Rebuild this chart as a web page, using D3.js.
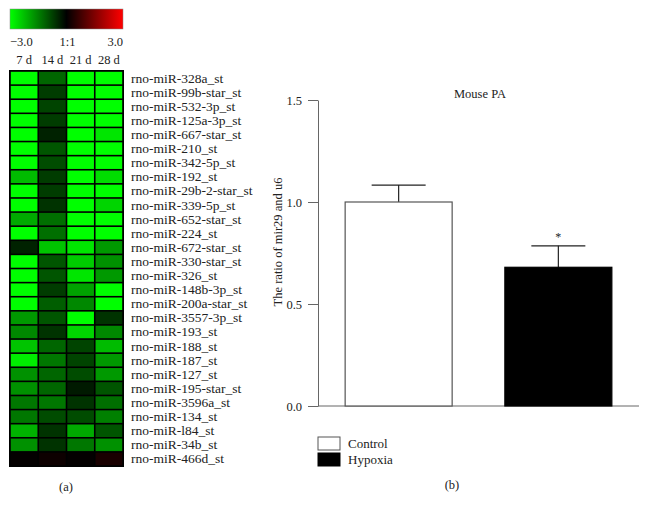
<!DOCTYPE html>
<html><head><meta charset="utf-8">
<script src="https://cdn.jsdelivr.net/npm/d3@7"></script>
<style>body{margin:0;background:#fff}svg{display:block}text{font-family:"Liberation Serif","DejaVu Serif",serif;fill:#222}</style>
</head><body><svg id="c" width="648" height="511"></svg>
<script>
const days = ["7 d","14 d","21 d","28 d"];
const mirnas = ["rno-miR-328a_st","rno-miR-99b-star_st","rno-miR-532-3p_st","rno-miR-125a-3p_st","rno-miR-667-star_st","rno-miR-210_st","rno-miR-342-5p_st","rno-miR-192_st","rno-miR-29b-2-star_st","rno-miR-339-5p_st","rno-miR-652-star_st","rno-miR-224_st","rno-miR-672-star_st","rno-miR-330-star_st","rno-miR-326_st","rno-miR-148b-3p_st","rno-miR-200a-star_st","rno-miR-3557-3p_st","rno-miR-193_st","rno-miR-188_st","rno-miR-187_st","rno-miR-127_st","rno-miR-195-star_st","rno-miR-3596a_st","rno-miR-134_st","rno-miR-l84_st","rno-miR-34b_st","rno-miR-466d_st"];
// log ratio per day (7d,14d,21d,28d)
const d7  = [-3.0,-3.0,-3.0,-3.0,-3.0,-3.0,-3.0,-2.2,-3.0,-3.0,-2.0,-3.0,-0.4,-3.0,-3.0,-3.0,-3.0,-1.8,-1.6,-2.3,-2.8,-1.7,-1.7,-1.4,-1.4,-2.1,-1.7,0.05];
const d14 = [-1.2,-0.7,-0.8,-0.7,-0.4,-1.0,-0.9,-0.7,-0.7,-0.6,-1.3,-1.3,-2.3,-1.0,-1.0,-0.7,-1.1,-1.0,-0.6,-1.2,-1.4,-1.2,-1.2,-1.4,-0.9,-0.6,-0.6,0.15];
const d21 = [-3.0,-3.0,-3.0,-3.0,-3.0,-3.0,-3.0,-3.0,-3.0,-3.0,-3.0,-3.0,-2.7,-2.4,-2.7,-1.9,-1.6,-3.0,-2.5,-0.8,-0.8,-0.9,-0.3,-0.6,-0.9,-2.0,-1.4,0.05];
const d28 = [-3.0,-3.0,-3.0,-3.0,-2.7,-3.0,-3.0,-2.6,-3.0,-2.5,-3.0,-3.0,-1.8,-1.7,-1.8,-3.0,-3.0,-0.6,-1.6,-2.2,-1.8,-1.8,-1.0,-1.3,-1.5,-1.0,-1.7,0.3];
const scaleTicks = ["\u22123.0","1:1","3.0"];

const groups = ["Control","Hypoxia"];
const ratio = [1.0, 0.68];
const errUp = [0.083, 0.105];
const yTicks = [0.0,0.5,1.0,1.5];

const svg = d3.select("#c");
const series = [d7,d14,d21,d28];

// ---- heatmap ----
const hx = d3.scaleBand().domain(days).range([10,123]).padding(0);
const hy = d3.scaleBand().domain(mirnas).range([71,466]).padding(0);
const col = d3.scaleLinear().domain([-3,0,3]).range(["#00ff00","#000000","#ff0000"]).clamp(true);

// color bar
const defs = svg.append("defs");
const grad = defs.append("linearGradient").attr("id","g");
[-3,-1.5,0,1.5,3].forEach(v=>grad.append("stop").attr("offset",((v+3)/6*100)+"%").attr("stop-color",col(v)));
const cb = d3.scaleLinear().domain([-3,3]).range([10,123]);
svg.append("rect").attr("x",cb(-3)).attr("y",9).attr("width",cb(3)-cb(-3)).attr("height",20).attr("fill","url(#g)").attr("stroke","#888").attr("stroke-width",0.5);
svg.append("text").attr("x",cb(-3)).attr("y",46).attr("font-size",12.5).attr("text-anchor","start").text(scaleTicks[0]);
svg.append("text").attr("x",cb(0)+1).attr("y",46).attr("font-size",12.5).attr("text-anchor","middle").text(scaleTicks[1]);
svg.append("text").attr("x",cb(3)).attr("y",46).attr("font-size",12.5).attr("text-anchor","end").text(scaleTicks[2]);
svg.selectAll(".dl").data(days).join("text").attr("x",d=>hx(d)+hx.bandwidth()/2).attr("y",64)
  .attr("font-size",12.5).attr("text-anchor","middle").text(d=>d);

svg.append("rect").attr("x",hx.range()[0]-1).attr("y",hy.range()[0]-1).attr("width",hx.range()[1]-hx.range()[0]+2).attr("height",hy.range()[1]-hy.range()[0]+2).attr("fill","#000");
const cells=[];
mirnas.forEach((m,i)=>series.forEach((s,j)=>cells.push({m,d:days[j],v:s[i]})));
svg.selectAll(".cell").data(cells).join("rect")
  .attr("x",d=>hx(d.d)+0.8).attr("y",d=>hy(d.m)+0.8)
  .attr("width",hx.bandwidth()-1.6).attr("height",hy.bandwidth()-1.6)
  .attr("fill",d=>col(d.v));
svg.selectAll(".ml").data(mirnas).join("text").attr("x",131).attr("y",d=>hy(d)+hy.bandwidth()/2+4.5)
  .attr("font-size",13.5).text(d=>d);
svg.append("text").attr("x",66).attr("y",491).attr("font-size",12.5).attr("text-anchor","middle").text("(a)");

// ---- bar chart ----
const y = d3.scaleLinear().domain([0,1.5]).range([406,100]);
const x = d3.scaleBand().domain(groups).range([318,639]).paddingInner(0.33).paddingOuter(0.17);
const yAxis = svg.append("g").attr("transform","translate(318,0)")
  .call(d3.axisLeft(y).tickValues(yTicks).tickFormat(d3.format(".1f")).tickSize(10).tickSizeOuter(0));
yAxis.select(".domain").attr("stroke","#666");
yAxis.selectAll(".tick line").attr("stroke","#666");
yAxis.selectAll("text").attr("font-family","Liberation Serif").attr("font-size",12.5).attr("fill","#222").attr("dx","-3");
svg.append("line").attr("x1",318).attr("x2",639).attr("y1",y(0)).attr("y2",y(0)).attr("stroke","#666");

const bars = groups.map((g,i)=>({g,v:ratio[i],e:errUp[i]}));
// error bars
svg.selectAll(".ev").data(bars).join("line").attr("x1",d=>x(d.g)+x.bandwidth()/2).attr("x2",d=>x(d.g)+x.bandwidth()/2)
  .attr("y1",d=>y(d.v)).attr("y2",d=>y(d.v+d.e)).attr("stroke","#222").attr("stroke-width",1.2);
svg.selectAll(".ec").data(bars).join("line").attr("x1",d=>x(d.g)+x.bandwidth()/2-27).attr("x2",d=>x(d.g)+x.bandwidth()/2+27)
  .attr("y1",d=>y(d.v+d.e)).attr("y2",d=>y(d.v+d.e)).attr("stroke","#222").attr("stroke-width",1.2);
svg.selectAll(".bar").data(bars).join("rect")
  .attr("x",d=>x(d.g)).attr("y",d=>y(d.v)).attr("width",x.bandwidth()).attr("height",d=>y(0)-y(d.v))
  .attr("fill",(d,i)=>i===0?"#fff":"#000").attr("stroke",(d,i)=>i===0?"#555":"#000").attr("stroke-width",1.2);
svg.append("text").attr("x",x("Hypoxia")+x.bandwidth()/2).attr("y",y(ratio[1]+errUp[1])-5).attr("font-size",12).attr("text-anchor","middle").text("*");

svg.append("text").attr("x",480).attr("y",98).attr("font-size",12.5).attr("text-anchor","middle").text("Mouse PA");
svg.append("text").attr("transform","translate(282,242) rotate(-90)").attr("font-size",12.5).attr("text-anchor","middle").text("The ratio of mir29 and u6");

// legend
groups.forEach((g,i)=>{
  svg.append("rect").attr("x",318).attr("y",437+i*16).attr("width",22).attr("height",13)
    .attr("fill",i===0?"#fff":"#000").attr("stroke",i===0?"#555":"#000");
  svg.append("text").attr("x",348).attr("y",447.5+i*16).attr("font-size",13).text(g);
});
svg.append("text").attr("x",452).attr("y",489).attr("font-size",12.5).attr("text-anchor","middle").text("(b)");
</script></body></html>
